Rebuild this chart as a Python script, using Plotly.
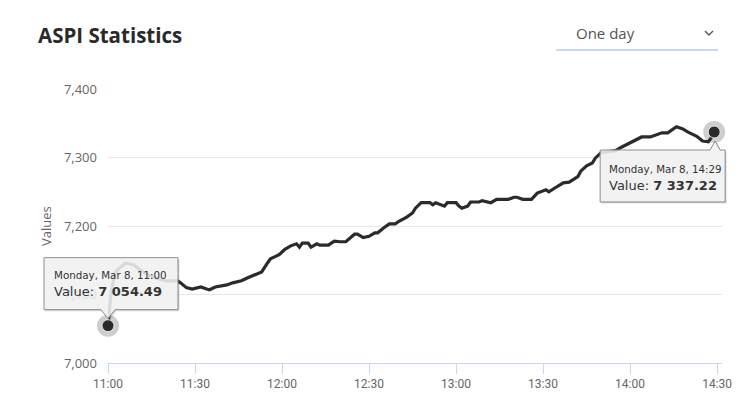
import plotly.graph_objects as go
from datetime import datetime

# ---------------- data ----------------
day = "2021-03-08"
times = ["11:00", "11:01", "11:02", "11:03", "11:06", "11:09", "11:12", "11:15", "11:20", "11:24",
         "11:25", "11:27", "11:29", "11:31", "11:32", "11:34", "11:35", "11:37", "11:39", "11:41",
         "11:43", "11:46", "11:48", "11:49", "11:51", "11:53", "11:55", "11:56", "11:59", "12:01",
         "12:03", "12:05", "12:06", "12:07", "12:09", "12:10", "12:12", "12:13", "12:16", "12:18",
         "12:20", "12:22", "12:25", "12:26", "12:28", "12:30", "12:32", "12:33", "12:35", "12:37",
         "12:39", "12:40", "12:43", "12:45", "12:46", "12:48", "12:51", "12:52", "12:53", "12:56",
         "12:57", "13:00", "13:01", "13:02", "13:04", "13:05", "13:08", "13:09", "13:12", "13:14",
         "13:18", "13:20", "13:21", "13:23", "13:26", "13:28", "13:31", "13:32", "13:35", "13:37",
         "13:39", "13:42", "13:43", "13:45", "13:47", "13:48", "13:50", "13:52", "13:55", "13:57",
         "14:01", "14:04", "14:07", "14:09", "14:11", "14:13", "14:16", "14:18", "14:20", "14:23",
         "14:25", "14:27", "14:28", "14:29"]
values = [7054.49, 7100, 7124, 7135, 7146, 7143, 7133, 7126, 7120, 7120,
          7117, 7110, 7108, 7110, 7111, 7108, 7107, 7111, 7112, 7114,
          7117, 7120, 7124, 7126, 7130, 7133, 7146, 7152, 7158, 7166,
          7171, 7174, 7169, 7175, 7175, 7169, 7174, 7172, 7172, 7178,
          7177, 7177, 7188, 7188, 7183, 7185, 7190, 7190, 7197, 7203,
          7203, 7206, 7213, 7219, 7226, 7234, 7234, 7231, 7234, 7229,
          7234, 7234, 7229, 7226, 7229, 7235, 7235, 7237, 7234, 7239,
          7239, 7242, 7242, 7239, 7239, 7248, 7253, 7250, 7258, 7263,
          7264, 7272, 7280, 7288, 7292, 7299, 7307, 7308, 7310, 7315,
          7323, 7330, 7330, 7333, 7336, 7336, 7345, 7342, 7337, 7331,
          7324, 7323, 7329, 7337.22]
x_ticks = ["11:00", "11:30", "12:00", "12:30", "13:00", "13:30", "14:00", "14:30"]
y_ticks = [7000, 7100, 7200, 7300, 7400]
y_tick_text = ["7,000", "7,100", "7,200", "7,300", "7,400"]
title_text = "ASPI Statistics"
period_text = "One day"
tooltip_date = ["Monday, Mar 8, 11:00", "Monday, Mar 8, 14:29"]
tooltip_value = ["7 054.49", "7 337.22"]

# ---------------- build ----------------
dts = [datetime.strptime(f"{day} {t}", "%Y-%m-%d %H:%M") for t in times]
x_start = dts[0]
x_end = datetime.strptime(f"{day} 14:31:42", "%Y-%m-%d %H:%M:%S")
y_min, y_max = 7000, 7400

O = 8  # page body margin offset
W, H = 750 - O, 420 - O
L, R, T, B = 108 - O, 28, 89 - O, 57
PW, PH = W - L - R, H - T - B


def px_to_paper(px, py):
    # px, py: screen pixel coordinates
    return (px - O - L) / PW, (H - B - (py - O)) / PH


def data_to_paper(dt, v):
    return ((dt - x_start).total_seconds() / (x_end - x_start).total_seconds(),
            (v - y_min) / (y_max - y_min))


fig = go.Figure()
fig.add_trace(go.Scatter(x=dts, y=values, mode="lines",
                         line=dict(color="#2b2b2b", width=3.2),
                         hoverinfo="skip"))
ends_x = [dts[0], dts[-1]]
ends_y = [values[0], values[-1]]
fig.add_trace(go.Scatter(x=ends_x, y=ends_y, mode="markers",
                         marker=dict(size=22, color="rgba(60,60,60,0.25)"),
                         hoverinfo="skip", cliponaxis=False))
fig.add_trace(go.Scatter(x=ends_x, y=ends_y, mode="markers",
                         marker=dict(size=12, color="#2b2b2b",
                                     line=dict(color="#e8e8e8", width=1)),
                         hoverinfo="skip", cliponaxis=False))

shapes = []


def path_str(pts, dx=0, dy=0):
    return "M " + " L ".join(f"{x + dx},{y + dy}" for x, y in pts) + " Z"


def callout(anchor, pts):
    ax, ay = anchor
    for off, col in [((2, -2), "rgba(0,0,0,0.06)"), ((1, -1), "rgba(0,0,0,0.12)")]:
        shapes.append(dict(type="path", xref="paper", yref="paper",
                           xsizemode="pixel", ysizemode="pixel",
                           xanchor=ax, yanchor=ay,
                           path=path_str(pts, *off), fillcolor=col,
                           line=dict(width=0), layer="above"))
    shapes.append(dict(type="path", xref="paper", yref="paper",
                       xsizemode="pixel", ysizemode="pixel",
                       xanchor=ax, yanchor=ay,
                       path=path_str(pts), fillcolor="rgba(247,247,247,0.86)",
                       line=dict(color="#8a8a8a", width=1), layer="above"))


a1 = data_to_paper(dts[0], values[0])
callout(a1, [(-64, 68), (70, 68), (70, 16), (7, 16), (0, 7), (-7, 16), (-64, 16)])
a2 = data_to_paper(dts[-1], values[-1])
callout(a2, [(-114, -18), (-4, -18), (1, -9), (6, -18), (11, -18), (11, -70), (-114, -70)])

# dropdown underline and chevron
u0 = px_to_paper(556, 50)
u1 = px_to_paper(718, 50)
shapes.append(dict(type="line", xref="paper", yref="paper", x0=u0[0], x1=u1[0],
                   y0=u0[1], y1=u1[1], line=dict(color="#c9d8ec", width=2)))
cv = px_to_paper(709, 33)
shapes.append(dict(type="path", xref="paper", yref="paper", xsizemode="pixel", ysizemode="pixel",
                   xanchor=cv[0], yanchor=cv[1], path="M -4,2 L 0,-2 L 4,2",
                   line=dict(color="#555", width=1.4)))

annotations = []
tt_font = "DejaVu Sans, Verdana, sans-serif"
for i, (anc, xs, ys) in enumerate([((dts[0], values[0]), -56, 59),
                                   ((dts[-1], values[-1]), -107, -29)]):
    annotations.append(dict(
        x=anc[0], y=anc[1], xref="x", yref="y", xanchor="left", yanchor="top",
        xshift=xs, yshift=ys, showarrow=False, align="left",
        text=(f"<span style='font-size:10.3px'>{tooltip_date[i]}</span><br>"
              f"Value: <b>{tooltip_value[i]}</b>"),
        font=dict(family=tt_font, size=13, color="#333")))

vp = px_to_paper(46, 226)
annotations.append(dict(x=vp[0], y=vp[1], xref="paper", yref="paper", text="Values",
                        textangle=-90, showarrow=False, xanchor="center", yanchor="middle",
                        font=dict(family="Open Sans", size=13, color="#666")))
dp = px_to_paper(574, 33)
annotations.append(dict(x=dp[0], y=dp[1], xref="paper", yref="paper", text=period_text,
                        xanchor="left", yanchor="middle", showarrow=False,
                        font=dict(family="Open Sans", size=15, color="#555")))

fig.update_layout(
    width=W, height=H,
    margin=dict(l=L, r=R, t=T, b=B),
    paper_bgcolor="white", plot_bgcolor="white",
    showlegend=False,
    hovermode=False,
    title=dict(text=f"<b>{title_text}</b>", x=(38 - O) / W, y=1 - (36 - O) / H,
               xanchor="left", yanchor="middle", xref="container", yref="container",
               font=dict(family="Open Sans", size=20.5, color="#2a2a2a")),
    xaxis=dict(type="date", range=[x_start, x_end],
               tickvals=[datetime.strptime(f"{day} {t}", "%Y-%m-%d %H:%M") for t in x_ticks],
               ticktext=x_ticks,
               showgrid=False, zeroline=False,
               showline=True, linecolor="#ccd6eb", linewidth=1,
               ticks="outside", ticklen=10, tickcolor="#ccd6eb", tickwidth=1,
               tickfont=dict(family="Roboto", size=12, color="#666")),
    yaxis=dict(range=[y_min, y_max], tickvals=y_ticks, ticktext=y_tick_text,
               showgrid=True, gridcolor="#e6e6e6", gridwidth=1,
               zeroline=False, showline=False, ticks="",
               ticklabelstandoff=10,
               tickfont=dict(family="Open Sans", size=13, color="#666")),
    shapes=shapes,
    annotations=annotations,
)

fig.write_html("out.html", config={"displayModeBar": False})
